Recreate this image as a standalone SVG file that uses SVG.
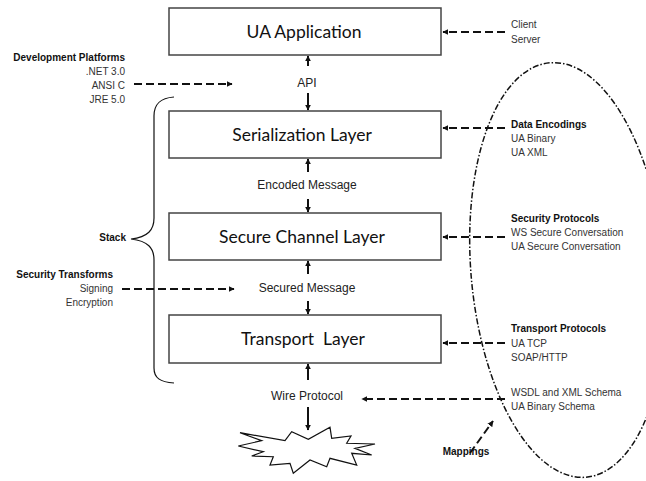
<svg xmlns="http://www.w3.org/2000/svg" width="646" height="481" viewBox="0 0 646 481">
<defs>
<marker id="ah" viewBox="0 0 10 10" refX="9" refY="5" markerWidth="6" markerHeight="6" markerUnits="userSpaceOnUse" orient="auto">
<path d="M0,0 L10,5 L0,10 Z" fill="#111"/>
</marker>
<marker id="ahs" viewBox="0 0 10 10" refX="9" refY="5" markerWidth="6" markerHeight="7" markerUnits="userSpaceOnUse" orient="auto">
<path d="M0,0 L10,5 L0,10 Z" fill="#111"/>
</marker>
</defs>
<style>
.box{fill:#fff;stroke:#444;stroke-width:1.5}
.big{font-family:Lato,"Open Sans",sans-serif;font-size:17.5px;fill:#111;text-anchor:middle}
.mid{font-family:"Liberation Sans",Arial,sans-serif;font-size:12px;fill:#222;text-anchor:middle}
.sm{font-family:"Liberation Sans",Arial,sans-serif;font-size:10px;fill:#333}
.hd{font-family:"Liberation Sans",Arial,sans-serif;font-size:10px;font-weight:bold;fill:#111}
.r{text-anchor:end}
.solid{stroke:#111;stroke-width:2;fill:none;marker-end:url(#ahs)}
.dash{stroke:#111;stroke-width:2;fill:none;stroke-dasharray:8 4;marker-end:url(#ah)}
</style>
<rect width="646" height="481" fill="#fff"/>

<g id="ua-application"><rect class="box" x="169" y="8" width="272" height="47"/><text class="big" x="304" y="38">UA Application</text></g>
<g id="serialization-layer"><rect class="box" x="169" y="111" width="272" height="47"/><text class="big" x="302" y="141">Serialization Layer</text></g>
<g id="secure-channel-layer"><rect class="box" x="169" y="213" width="272" height="47"/><text class="big" x="302" y="243">Secure Channel Layer</text></g>
<g id="transport-layer"><rect class="box" x="169" y="315" width="272" height="48"/><text class="big" x="303" y="345" xml:space="preserve">Transport  Layer</text></g>
<g id="wire"><polygon points="240,432.7 285,440.7 291.7,431.7 308.3,439.3 330,427.3 331.7,438.3 351,436 346.7,443.3 375,444 355,448.3 371.7,455 351.7,453.3 356.7,465 330,458.3 326.7,466.7 310,460 293.3,473.3 290,463.3 270,465 273.3,456.7 251.7,456 263.3,451.7 238.3,446 261.7,440.7" fill="#fff" stroke="#111" stroke-width="1.2" stroke-linejoin="miter"/></g>

<g id="mappings-ellipse"><ellipse cx="568" cy="270" rx="97" ry="208" transform="rotate(-5 568 270)" fill="none" stroke="#111" stroke-width="1.5" stroke-dasharray="6 2 1.5 2"/></g>

<g id="stack-brace"><path d="M174,97 C160,98 154,104 154,116 L154,218 C154,230 148,237 131,239 C148,241 154,248 154,260 L154,368 C154,378 160,382 174,383" fill="none" stroke="#111" stroke-width="1.2"/></g>

<g id="labels">
<text class="mid" x="307" y="87">API</text>
<text class="mid" x="307" y="189">Encoded Message</text>
<text class="mid" x="307" y="292">Secured Message</text>
<text class="mid" x="307" y="400">Wire Protocol</text>

<text class="hd r" x="125" y="61">Development Platforms</text>
<text class="sm r" x="125" y="75">.NET 3.0</text>
<text class="sm r" x="125" y="89">ANSI C</text>
<text class="sm r" x="125" y="103">JRE 5.0</text>

<text class="hd r" x="126" y="241">Stack</text>

<text class="hd r" x="113" y="278">Security Transforms</text>
<text class="sm r" x="113" y="292">Signing</text>
<text class="sm r" x="113" y="306">Encryption</text>

<text class="sm" x="511" y="28">Client</text>
<text class="sm" x="511" y="43">Server</text>

<text class="hd" x="511" y="128">Data Encodings</text>
<text class="sm" x="511" y="142">UA Binary</text>
<text class="sm" x="511" y="156">UA XML</text>

<text class="hd" x="511" y="222">Security Protocols</text>
<text class="sm" x="511" y="236">WS Secure Conversation</text>
<text class="sm" x="511" y="250">UA Secure Conversation</text>

<text class="hd" x="511" y="332">Transport Protocols</text>
<text class="sm" x="511" y="347">UA TCP</text>
<text class="sm" x="511" y="361">SOAP/HTTP</text>

<text class="sm" x="511" y="396">WSDL and XML Schema</text>
<text class="sm" x="511" y="410">UA Binary Schema</text>

<text class="hd" x="466" y="455" text-anchor="middle">Mappings</text>
</g>

<g id="connectors">
<path class="solid" d="M308,66 L308,56"/>
<path class="solid" d="M308,93 L308,110"/>
<path class="solid" d="M308,172 L308,159"/>
<path class="solid" d="M308,199 L308,212"/>
<path class="solid" d="M308,274 L308,261"/>
<path class="solid" d="M308,301 L308,314"/>
<path class="solid" d="M308,380 L308,364"/>
<path class="solid" d="M308,407 L308,430"/>

<path class="dash" d="M134,84 L232,84"/>
<path class="dash" d="M122,289 L234,289"/>
<path class="dash" d="M505,32 L443,32"/>
<path class="dash" d="M505,128 L443,128"/>
<path class="dash" d="M505,237 L443,237"/>
<path class="dash" d="M505,343 L443,343"/>
<path class="dash" d="M505,399 L362,399"/>
<path class="dash" d="M470,453 L493,421"/>
</g>
</svg>
